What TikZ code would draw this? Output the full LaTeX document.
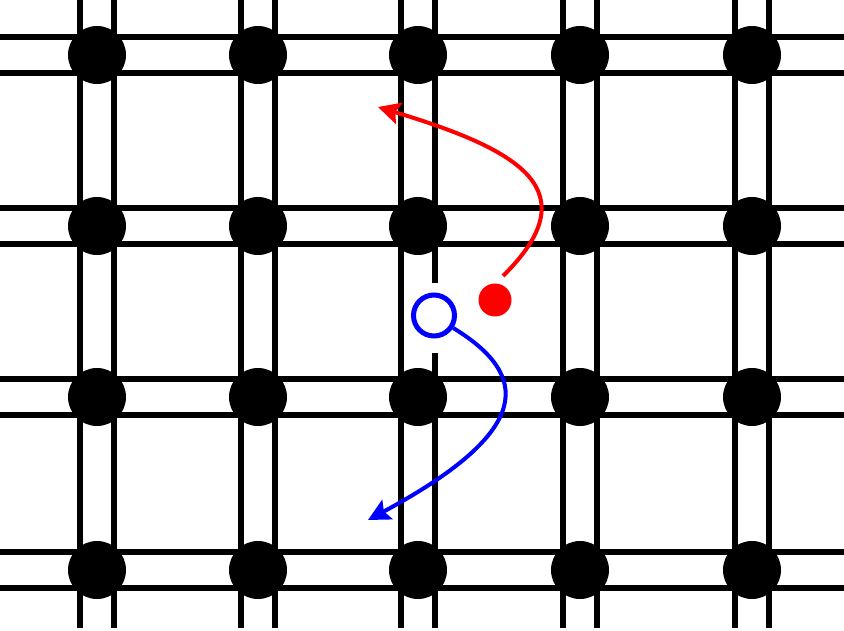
\documentclass[tikz,border=0pt]{standalone}
\usetikzlibrary{arrows.meta}

\begin{document}
\begin{tikzpicture}[
  x=1pt,y=-1pt,
  rail/.style={line width=5.5pt,black},
  site/.style={circle,fill=black,inner sep=0pt,minimum size=58pt},
  hole/.style={circle,draw=blue,fill=white,line width=5pt,inner sep=0pt,minimum size=41pt},
  particle/.style={circle,fill=red,inner sep=0pt,minimum size=33pt},
  hop/.style={-{Stealth[length=22pt,width=22pt,inset=4pt]},line width=4pt}
]
  \useasboundingbox (0,0) rectangle (844,631);

  % double rails of the lattice
  \foreach \x in {97,258,418,580,752}
    \draw[rail] (\x-17,0) -- (\x-17,628) (\x+17,0) -- (\x+17,628);
  \foreach \y in {55,226,397,570}
    \draw[rail] (0,\y-18) -- (844,\y-18) (0,\y+18) -- (844,\y+18);
  \fill[white] (430,283) rectangle (442,353);

  % lattice sites
  \foreach \x [count=\i] in {97,258,418,580,752}
    \foreach \y [count=\j] in {55,226,397,570}
      \node[site] (s-\i-\j) at (\x,\y) {};

  \node[hole] (h) at (434,315.5) {};
  \node[particle] (e) at (495,300) {};
  \coordinate (estart) at (503,276);
  \coordinate (etip) at (378,107);
  \coordinate (htip) at (368,520);

  \draw[hop,red] (estart) .. controls (590,190) and (520,150) .. (etip);
  \draw[hop,blue] (h.-33) .. controls (530,375) and (535,430) .. (htip);
\end{tikzpicture}
\end{document}
